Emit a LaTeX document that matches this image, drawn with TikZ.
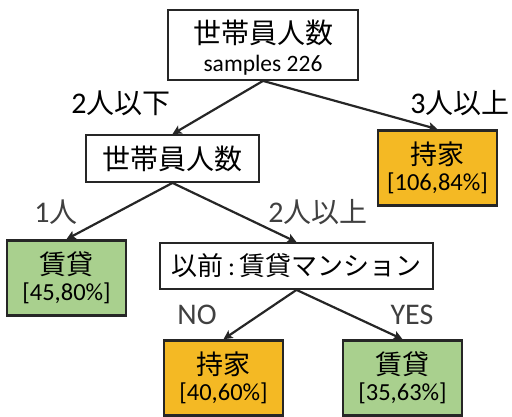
\documentclass[tikz,border=0pt]{standalone}
\usepackage{fontspec}
\setmainfont{Carlito}
\newfontfamily\jp{Noto Sans CJK JP}
\usetikzlibrary{arrows.meta}
\definecolor{orng}{HTML}{F4B924}
\definecolor{grn}{HTML}{A9D08E}
\definecolor{edge}{HTML}{262626}
\definecolor{lbl}{HTML}{404040}
\newcommand{\jpl}[1]{{\fontsize{28}{32}\selectfont\jp #1}}
\newcommand{\leaftext}[2]{\fontsize{27}{30}\selectfont\jp #1\\[5pt]\fontsize{24.5}{27}\selectfont #2}
\tikzset{
  whitebox/.style={draw=edge, line width=1.8pt, fill=white, inner sep=0pt, align=center},
  leafbox/.style={draw=edge, line width=2.6pt, inner sep=0pt, align=center, minimum width=119pt, minimum height=75pt},
  conn/.style={draw=edge, line width=2.2pt, -{Stealth[length=9pt,width=9pt,inset=2pt]}},
  big/.style={font=\fontsize{28}{32}\selectfont},
  toplbl/.style={font=\fontsize{30}{34}\selectfont, text=black},
  sublbl/.style={font=\fontsize{30}{34}\selectfont, text=lbl},
}
\begin{document}
\begin{tikzpicture}[x=1pt,y=-1pt]
\useasboundingbox (0,0) rectangle (512,417);
\node[whitebox, minimum width=190pt, minimum height=70pt] (root) at (263,45) {};
\node[big] (roott) at (263,33) {\jp 世帯員人数};
\node[font=\fontsize{23.5}{26}\selectfont] (roots) at (263,65) {samples 226};
\node[whitebox, big, minimum width=173pt, minimum height=47pt] (n2) at (172.5,158.5) {\jp 世帯員人数};
\node[leafbox, fill=orng] (r) at (437.5,168) {\leaftext{持家}{[106,84\%]}};
\node[leafbox, fill=grn] (g1) at (66.5,278) {\leaftext{賃貸}{[45,80\%]}};
\node[whitebox, font=\fontsize{26}{30}\selectfont, minimum width=273pt, minimum height=46pt] (n3) at (296.5,266) {{\jp 以前}\,:\,{\jp 賃貸マンション}};
\node[leafbox, fill=orng] (o2) at (223.5,378) {\leaftext{持家}{[40,60\%]}};
\node[leafbox, fill=grn] (g2) at (402.5,378) {\leaftext{賃貸}{[35,63\%]}};
\draw[conn] (root.south) -- (n2.north);
\draw[conn] (root.south) -- (r.north);
\draw[conn] (n2.south) -- (g1.north);
\draw[conn] (n2.south) -- (n3.north);
\draw[conn] (n3.south) -- (o2.north);
\draw[conn] (n3.south) -- (g2.north);
\node[toplbl] (l1) at (121,103) {2\jpl{人以下}};
\node[toplbl] (l2) at (460,103) {3\jpl{人以上}};
\node[sublbl] (l3) at (56,212) {1\jpl{人}};
\node[sublbl] (l4) at (318,212) {2\jpl{人以上}};
\node[sublbl] (l5) at (197,315) {NO};
\node[sublbl] (l6) at (412,315) {YES};
\end{tikzpicture}
\end{document}
